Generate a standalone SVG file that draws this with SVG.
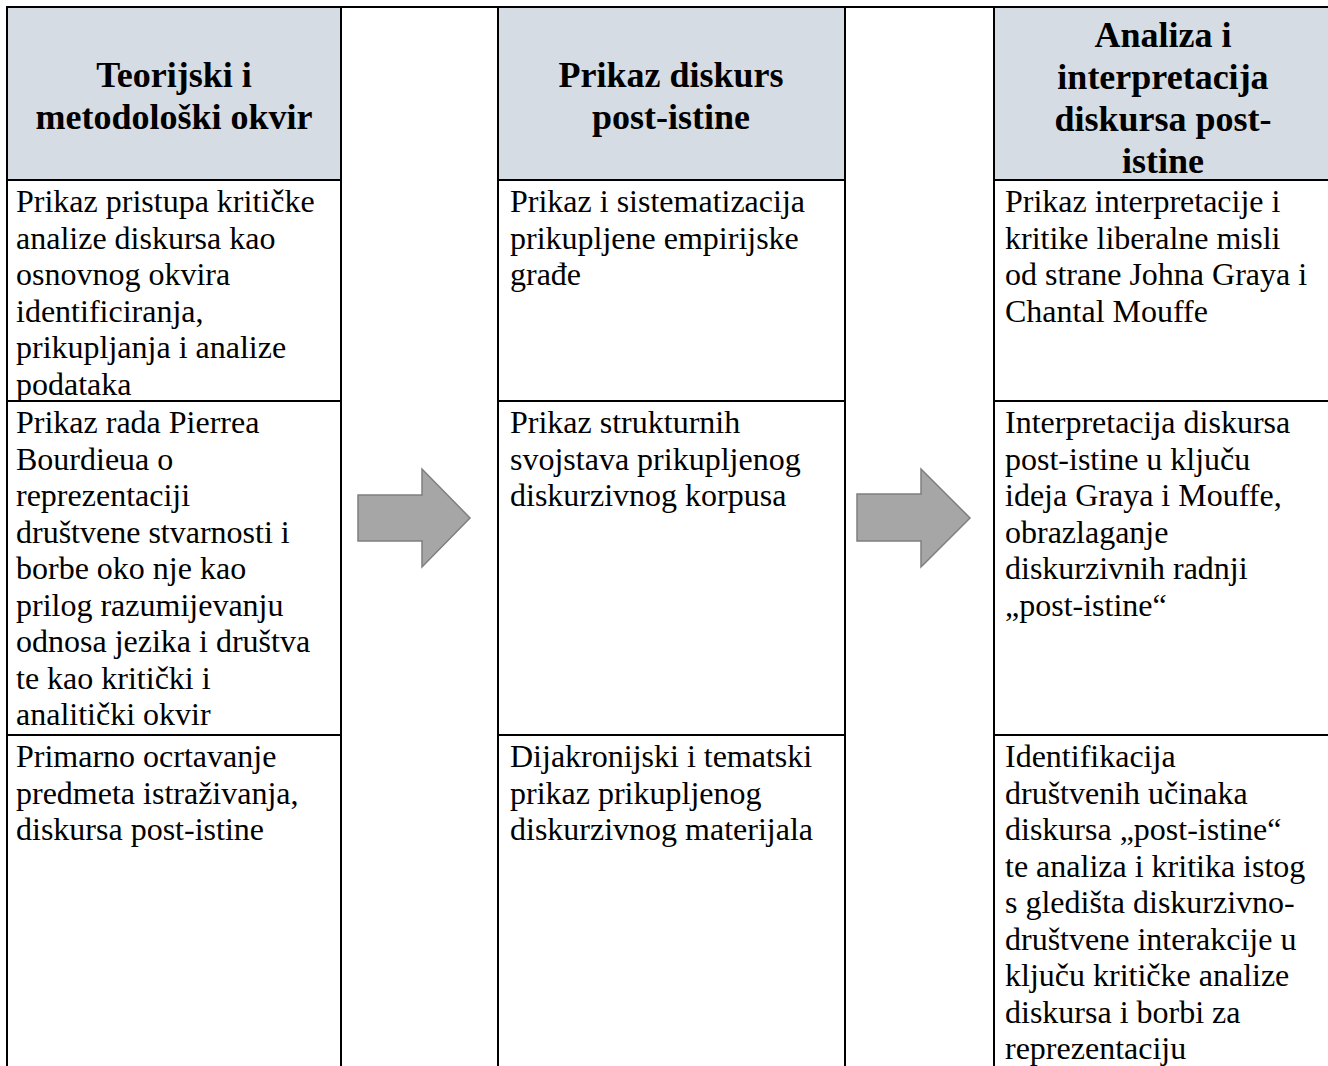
<svg xmlns="http://www.w3.org/2000/svg" width="1328" height="1066" viewBox="0 0 1328 1066">
  <style>
    .hdr { fill: #D6DCE4; }
    .grid { stroke: #000; stroke-width: 2; fill: none; }
    .ht { font-family: "Liberation Serif", "Times New Roman", serif; font-weight: bold; font-size: 36px; fill: #000; text-anchor: middle; }
    .bt { font-family: "Liberation Serif", "Times New Roman", serif; font-size: 32px; fill: #000; }
    .arrow { fill: #A6A6A6; stroke: #7F7F7F; stroke-width: 1.5; }
  </style>
  <rect width="1328" height="1066" fill="#fff"/>

  <g id="header-fills">
    <rect class="hdr" x="7" y="7" width="334" height="173"/>
    <rect class="hdr" x="498" y="7" width="347" height="173"/>
    <rect class="hdr" x="994" y="7" width="340" height="173"/>
  </g>

  <g id="grid" class="grid">
    <line x1="6" y1="7" x2="1334" y2="7"/>
    <line x1="7" y1="6" x2="7" y2="1070"/>
    <line x1="341" y1="6" x2="341" y2="1070"/>
    <line x1="498" y1="6" x2="498" y2="1070"/>
    <line x1="845" y1="6" x2="845" y2="1070"/>
    <line x1="994" y1="6" x2="994" y2="1070"/>
    <line x1="7" y1="180" x2="341" y2="180"/>
    <line x1="498" y1="180" x2="845" y2="180"/>
    <line x1="994" y1="180" x2="1334" y2="180"/>
    <line x1="7" y1="401" x2="341" y2="401"/>
    <line x1="498" y1="401" x2="845" y2="401"/>
    <line x1="994" y1="401" x2="1334" y2="401"/>
    <line x1="7" y1="735" x2="341" y2="735"/>
    <line x1="498" y1="735" x2="845" y2="735"/>
    <line x1="994" y1="735" x2="1334" y2="735"/>
  </g>

  <g id="col1-header">
    <text class="ht" x="174" y="87">Teorijski i</text>
    <text class="ht" x="174" y="129">metodološki okvir</text>
  </g>
  <g id="col3-header">
    <text class="ht" x="671" y="87">Prikaz diskurs</text>
    <text class="ht" x="671" y="129">post-istine</text>
  </g>
  <g id="col5-header">
    <text class="ht" x="1163" y="47">Analiza i</text>
    <text class="ht" x="1163" y="89">interpretacija</text>
    <text class="ht" x="1163" y="131">diskursa post-</text>
    <text class="ht" x="1163" y="173">istine</text>
  </g>

  <g id="col1-row1">
    <text class="bt" x="16" y="212">Prikaz pristupa kritičke</text>
    <text class="bt" x="16" y="248.5">analize diskursa kao</text>
    <text class="bt" x="16" y="285">osnovnog okvira</text>
    <text class="bt" x="16" y="321.5">identificiranja,</text>
    <text class="bt" x="16" y="358">prikupljanja i analize</text>
    <text class="bt" x="16" y="394.5">podataka</text>
  </g>
  <g id="col1-row2">
    <text class="bt" x="16" y="433">Prikaz rada Pierrea</text>
    <text class="bt" x="16" y="469.5">Bourdieua o</text>
    <text class="bt" x="16" y="506">reprezentaciji</text>
    <text class="bt" x="16" y="542.5">društvene stvarnosti i</text>
    <text class="bt" x="16" y="579">borbe oko nje kao</text>
    <text class="bt" x="16" y="615.5">prilog razumijevanju</text>
    <text class="bt" x="16" y="652">odnosa jezika i društva</text>
    <text class="bt" x="16" y="688.5">te kao kritički i</text>
    <text class="bt" x="16" y="725">analitički okvir</text>
  </g>
  <g id="col1-row3">
    <text class="bt" x="16" y="767">Primarno ocrtavanje</text>
    <text class="bt" x="16" y="803.5">predmeta istraživanja,</text>
    <text class="bt" x="16" y="840">diskursa post-istine</text>
  </g>

  <g id="col3-row1">
    <text class="bt" x="510" y="212">Prikaz i sistematizacija</text>
    <text class="bt" x="510" y="248.5">prikupljene empirijske</text>
    <text class="bt" x="510" y="285">građe</text>
  </g>
  <g id="col3-row2">
    <text class="bt" x="510" y="433">Prikaz strukturnih</text>
    <text class="bt" x="510" y="469.5">svojstava prikupljenog</text>
    <text class="bt" x="510" y="506">diskurzivnog korpusa</text>
  </g>
  <g id="col3-row3">
    <text class="bt" x="510" y="767">Dijakronijski i tematski</text>
    <text class="bt" x="510" y="803.5">prikaz prikupljenog</text>
    <text class="bt" x="510" y="840">diskurzivnog materijala</text>
  </g>

  <g id="col5-row1">
    <text class="bt" x="1005" y="212">Prikaz interpretacije i</text>
    <text class="bt" x="1005" y="248.5">kritike liberalne misli</text>
    <text class="bt" x="1005" y="285">od strane Johna Graya i</text>
    <text class="bt" x="1005" y="321.5">Chantal Mouffe</text>
  </g>
  <g id="col5-row2">
    <text class="bt" x="1005" y="433">Interpretacija diskursa</text>
    <text class="bt" x="1005" y="469.5">post-istine u ključu</text>
    <text class="bt" x="1005" y="506">ideja Graya i Mouffe,</text>
    <text class="bt" x="1005" y="542.5">obrazlaganje</text>
    <text class="bt" x="1005" y="579">diskurzivnih radnji</text>
    <text class="bt" x="1005" y="615.5">„post-istine“</text>
  </g>
  <g id="col5-row3">
    <text class="bt" x="1005" y="767">Identifikacija</text>
    <text class="bt" x="1005" y="803.5">društvenih učinaka</text>
    <text class="bt" x="1005" y="840">diskursa „post-istine“</text>
    <text class="bt" x="1005" y="876.5">te analiza i kritika istog</text>
    <text class="bt" x="1005" y="913">s gledišta diskurzivno-</text>
    <text class="bt" x="1005" y="949.5">društvene interakcije u</text>
    <text class="bt" x="1005" y="986">ključu kritičke analize</text>
    <text class="bt" x="1005" y="1022.5">diskursa i borbi za</text>
    <text class="bt" x="1005" y="1059">reprezentaciju</text>
  </g>

  <g id="connectors">
    <polygon id="arrow1" class="arrow" points="358,495 422,495 422,469 470,518 422,567 422,541 358,541"/>
    <polygon id="arrow2" class="arrow" points="857,494 921,494 921,469 970,518 921,567 921,541 857,541"/>
  </g>
</svg>
